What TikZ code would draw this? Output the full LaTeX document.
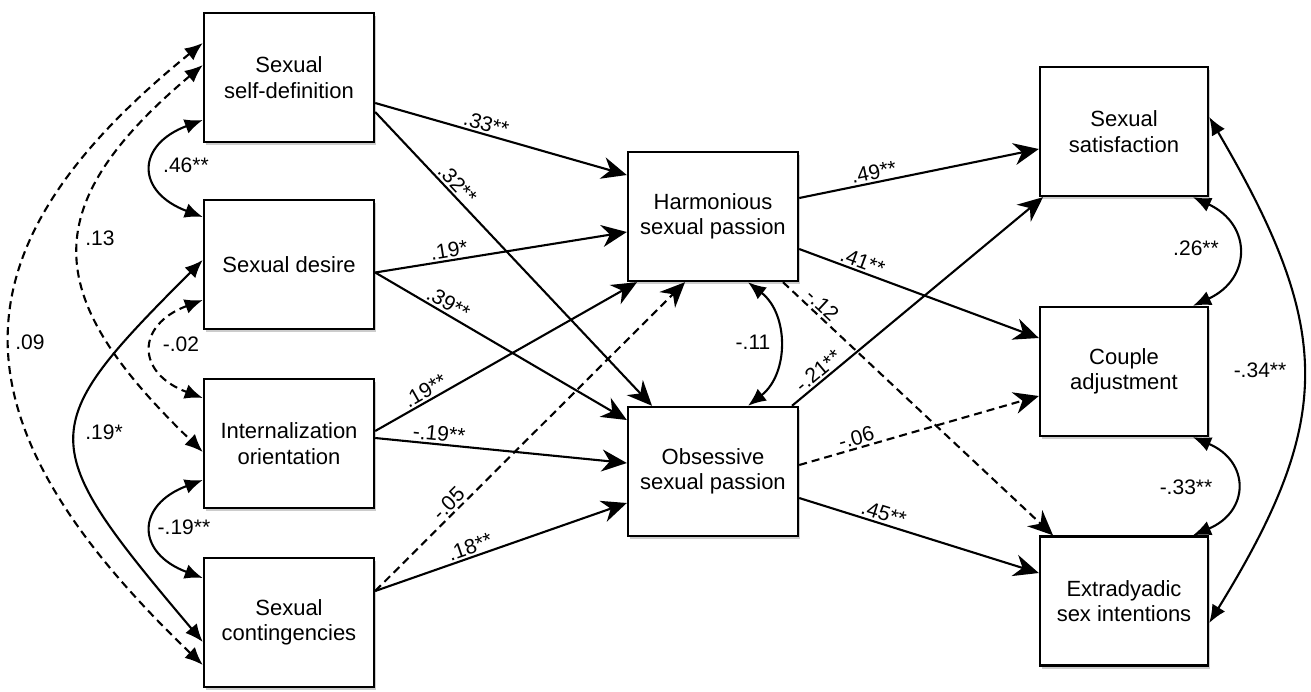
\documentclass[tikz,border=0pt]{standalone}
\usepackage{fontspec}
\setmainfont{Liberation Sans}
\usetikzlibrary{arrows.meta,shadows}
\begin{document}
\begin{tikzpicture}[x=1pt,y=-1pt,
  box/.style={draw, line width=2.4pt, fill=white, minimum width=170pt, minimum height=129pt,
    align=center, inner sep=0pt, font=\fontsize{22}{25.5}\selectfont,
    drop shadow={shadow xshift=1.5pt, shadow yshift=-3pt, fill=black, opacity=0.2}},
  rbox/.style={box, minimum width=168pt},
  path/.style={line width=2.1pt, -{Stealth[length=25pt,width=22pt,inset=8pt]}},
  dpath/.style={path, dash pattern=on 8pt off 5pt},
  cov/.style={line width=2.1pt, {Latex[length=18pt,width=15pt]}-{Latex[length=18pt,width=15pt]}},
  dcov/.style={cov, dash pattern=on 8pt off 5pt},
  lab/.style={font=\fontsize{21}{24}\selectfont, inner sep=2pt}]
\useasboundingbox (0,0) rectangle (1311,691);

% boxes
\node[box] (L1) at (289,77.5) {Sexual\\self-definition};
\node[box] (L2) at (289,264.5) {Sexual desire};
\node[box] (L3) at (289,443.5) {Internalization\\orientation};
\node[box] (L4) at (289,622.5) {Sexual\\contingencies};
\node[box] (H) at (713,216.5) {Harmonious\\sexual passion};
\node[box] (O) at (713,471.5) {Obsessive\\sexual passion};
\node[rbox] (S) at (1124,131.5) {Sexual\\satisfaction};
\node[rbox] (C) at (1124,371.5) {Couple\\adjustment};
\node[rbox] (E) at (1124,601) {Extradyadic\\sex intentions};

% predictors -> passions
\draw[path] ([yshift=-25.5pt]L1.east) -- node[lab,sloped,above,pos=0.43]{.33**} ([yshift=41.5pt]H.west);
\draw[path] ([yshift=-34.5pt]L1.east) -- node[lab,sloped,above,pos=0.27]{.32**} ([xshift=-61pt]O.north);
\draw[path] ([yshift=-8pt]L2.east) -- node[lab,sloped,above,pos=0.30]{.19*} ([yshift=-15.5pt]H.west);
\draw[path] ([yshift=-8pt]L2.east) -- node[lab,sloped,above,pos=0.27]{.39**} ([yshift=51.5pt]O.west);
\draw[path] ([yshift=12.5pt]L3.east) -- node[lab,sloped,above,pos=0.21]{.19**} ([xshift=-76pt]H.south);
\draw[path] ([yshift=5.5pt]L3.east) -- node[lab,sloped,above,pos=0.25]{-.19**} ([yshift=8.5pt]O.west);
\draw[dpath] ([yshift=31.5pt]L4.east) -- node[lab,sloped,above,pos=0.26]{-.05} ([xshift=-28pt]H.south);
\draw[path] ([yshift=31.5pt]L4.east) -- node[lab,sloped,above,pos=0.39]{.18**} ([yshift=-31.5pt]O.west);

% passions -> outcomes
\draw[path] ([yshift=18.5pt]H.east) -- node[lab,sloped,above,pos=0.32]{.49**} ([yshift=-17.5pt]S.west);
\draw[path] ([yshift=-32.5pt]H.east) -- node[lab,sloped,above,pos=0.25]{.41**} ([yshift=33.5pt]C.west);
\draw[dpath] ([xshift=70pt]H.south) -- node[lab,sloped,above,pos=0.12]{-.12} ([xshift=-71pt]E.north);
\draw[path] ([xshift=79pt]O.north) -- node[lab,sloped,above,pos=0.13]{-.21**} ([xshift=-81pt]S.south);
\draw[dpath] ([yshift=6.5pt]O.east) -- node[lab,sloped,above,pos=0.25]{-.06} ([yshift=-24.5pt]C.west);
\draw[path] ([yshift=-26.5pt]O.east) -- node[lab,sloped,above,pos=0.34]{.45**} ([yshift=28pt]E.west);

% covariances, passions and outcomes
\draw[cov] ([xshift=35pt]H.south) .. controls +(41,32) and +(41,-32) .. ([xshift=35pt]O.north);
\draw[cov] ([xshift=69pt]S.south) .. controls +(59,27) and +(59,-27) .. ([xshift=69pt]C.north);
\draw[cov] ([xshift=69pt]C.south) .. controls +(57,24) and +(57,-24) .. ([xshift=69pt]E.north);
\draw[cov] ([yshift=14.5pt]S.east) .. controls +(125,213) and +(125,-203) .. ([yshift=-22pt]E.east);

% covariances, predictors
\draw[cov] ([yshift=-42.5pt]L1.west) .. controls +(-67,25) and +(-67,-25) .. ([yshift=47.5pt]L2.west);
\draw[dcov] ([yshift=12.5pt]L1.west) .. controls +(-172,145) and +(-157,-152) .. ([yshift=-8.5pt]L3.west);
\draw[dcov] ([yshift=34.5pt]L1.west) .. controls +(-256,207) and +(-256,-245) .. ([yshift=-42.5pt]L4.west);
\draw[cov] ([yshift=4.5pt]L2.west) .. controls +(-169,169) and +(-169,-200) .. ([yshift=-19.5pt]L4.west);
\draw[dcov] ([yshift=-35.5pt]L2.west) .. controls +(-67,25) and +(-67,-25) .. ([yshift=45.5pt]L3.west);
\draw[cov] ([yshift=-36.5pt]L3.west) .. controls +(-67,25) and +(-67,-25) .. ([yshift=44.5pt]L4.west);

% covariance labels
\node[lab] (c1) at (186,165) {.46**};
\node[lab] (c2) at (100,238) {.13};
\node[lab] (c3) at (30,342) {.09};
\node[lab] (c4) at (104,432) {.19*};
\node[lab] (c5) at (181,344) {-.02};
\node[lab] (c6) at (184,527) {-.19**};
\node[lab] (c7) at (753,342) {-.11};
\node[lab] (c8) at (1196,248) {.26**};
\node[lab] (c9) at (1186,487) {-.33**};
\node[lab] (c10) at (1260,370) {-.34**};
\end{tikzpicture}
\end{document}
